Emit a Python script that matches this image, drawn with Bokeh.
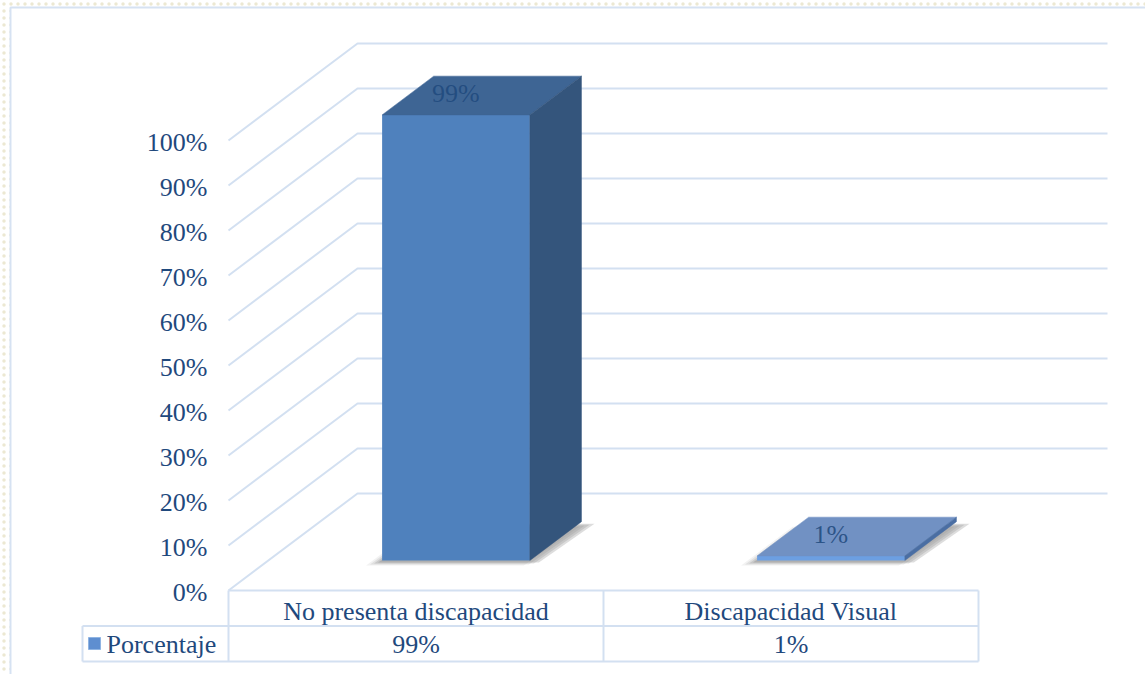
from bokeh.plotting import figure
from bokeh.models import Range1d
from bokeh.embed import file_html
from bokeh.resources import INLINE
from bokeh.core.properties import value

# ---------------- data ----------------
categories = ["No presenta discapacidad", "Discapacidad Visual"]
values = [99, 1]
value_labels = ["99%", "1%"]
series_name = "Porcentaje"
ticks = [0, 10, 20, 30, 40, 50, 60, 70, 80, 90, 100]
tick_labels = ["0%", "10%", "20%", "30%", "40%", "50%", "60%", "70%", "80%", "90%", "100%"]

# ---------------- layout (pixels) ----------------
W, H = 1145, 674
ORIGIN_X, ORIGIN_Y = 228, 590       # front-left corner of the floor (0%)
PX_CAT = 375                        # pixels per category
PX_PCT = 4.5                        # pixels per percent
DEPTH_PX_X, DEPTH_PX_Y = 129, 97    # oblique depth vector
BAR_HALF = 0.197
D0, D1 = 0.31, 0.71                 # bar depth span (fraction of depth)

DX = DEPTH_PX_X / PX_CAT
DY = DEPTH_PX_Y / PX_PCT


def px(xp):
    return (xp - ORIGIN_X) / PX_CAT


def py(yp):
    return (ORIGIN_Y - yp) / PX_PCT


def P(x, y, d):
    return x + d * DX, y + d * DY


FONT = value("Liberation Serif")
FS = "26px"
TXT = "#1F497D"
GRID = "#D3E0F1"
front_colors = ["#4F81BD", "#6C9FE2"]
top_colors = ["#3E6594", "#7191C3"]
side_colors = ["#34557C", "#4A6EA3"]

p = figure(width=W, height=H,
           x_range=Range1d(px(0), px(W)), y_range=Range1d(py(H), py(0)),
           output_backend="svg", toolbar_location=None, min_border=0,
           x_axis_location=None, y_axis_location=None)
p.grid.visible = False
p.outline_line_color = None
p.background_fill_color = "white"
p.border_fill_color = "white"

# dotted page background outside the chart frame
p.quad(left=[px(0), px(0)], right=[px(10), px(W)], bottom=[py(H), py(7)], top=[py(0), py(0)],
       fill_color="white", line_color=None, hatch_pattern="dot",
       hatch_color="#ECE8D2", hatch_scale=7, hatch_weight=1.0)
# chart frame
p.quad(left=[px(10)], right=[px(W + 20)], bottom=[py(H + 20)], top=[py(7)],
       fill_color="white", line_color="#D6E2F2", line_width=2)

# gridlines (front-left diagonal + back wall)
xs, ys = [], []
for t in ticks:
    a = P(0, t, 0)
    b = P(0, t, 1)
    c = P(len(categories), t, 1)
    xs.append([a[0], b[0], c[0]])
    ys.append([a[1], b[1], c[1]])
p.multi_line(xs, ys, line_color=GRID, line_width=2)

# y tick labels
p.text(x=[0] * len(ticks), y=ticks, text=tick_labels, text_font=FONT, text_font_size=FS,
       text_color=TXT, text_align="right", text_baseline="middle", x_offset=-21, y_offset=2)

# bars
for i, v in enumerate(values):
    c = i + 0.5
    l, r = c - BAR_HALF, c + BAR_HALF
    # soft shadow
    base = [P(l, 0, D0), P(r, 0, D0), P(r, 0, D1), P(l, 0, D1)]
    for k, (ox, oy, a) in enumerate([(-16, 5, 0.07), (-12, 4, 0.10), (-8, 3, 0.14), (-4, 2, 0.18)]):
        sx = [b[0] + ox / PX_CAT for b in base]
        sy = [b[1] - oy / PX_PCT for b in base]
        sx[1] += (10 + k) / PX_CAT; sx[2] += (14 + k) / PX_CAT
        p.patch(sx, sy, fill_color="#404040", fill_alpha=a, line_color=None)
    # front face
    fl = P(l, 0, D0); fr = P(r, v, D0)
    p.quad(left=[fl[0]], right=[fr[0]], bottom=[fl[1]], top=[fr[1]],
           fill_color=front_colors[i], line_color=None)
    # top face
    pts = [P(l, v, D0), P(r, v, D0), P(r, v, D1), P(l, v, D1)]
    p.patch([q[0] for q in pts], [q[1] for q in pts], fill_color=top_colors[i],
            line_color=top_colors[i], line_width=0.5)
    # side face
    pts = [P(r, 0, D0), P(r, v, D0), P(r, v, D1), P(r, 0, D1)]
    p.patch([q[0] for q in pts], [q[1] for q in pts], fill_color=side_colors[i],
            line_color=side_colors[i], line_width=0.5)
    # data label on the top face
    lx, ly = P(c, v, (D0 + D1) / 2)
    p.text(x=[lx], y=[ly], text=[value_labels[i]], text_font=FONT, text_font_size=FS,
           text_color=TXT, text_alpha=0.85, text_align="center", text_baseline="middle",
           x_offset=-26, y_offset=-2)

# data table
n = len(categories)
ROW1_T, ROW1_B, ROW2_B = 590, 625.5, 661
LEG_L = 82
tx = [[0, n], [px(LEG_L), n], [px(LEG_L), n], [px(LEG_L), px(LEG_L)]]
ty = [[py(ROW1_T), py(ROW1_T)], [py(ROW1_B), py(ROW1_B)], [py(ROW2_B), py(ROW2_B)],
      [py(ROW1_B), py(ROW2_B)]]
for k in range(n + 1):
    tx.append([k, k])
    ty.append([py(ROW1_T), py(ROW2_B)])
p.multi_line(tx, ty, line_color=GRID, line_width=2)

p.text(x=[i + 0.5 for i in range(n)], y=[py((ROW1_T + ROW1_B) / 2)] * n, text=categories,
       text_font=FONT, text_font_size=FS, text_color=TXT, text_align="center",
       text_baseline="middle", y_offset=3)
p.text(x=[i + 0.5 for i in range(n)], y=[py((ROW1_B + ROW2_B) / 2)] * n, text=value_labels,
       text_font=FONT, text_font_size=FS, text_color=TXT, text_align="center",
       text_baseline="middle", y_offset=1)
# legend key + series name
p.quad(left=[px(88)], right=[px(100)], bottom=[py(649)], top=[py(637)],
       fill_color="#5E8ED0", line_color="#8FB4E3", line_width=1)
p.text(x=[px(106)], y=[py((ROW1_B + ROW2_B) / 2)], text=[series_name], text_font=FONT,
       text_font_size=FS, text_color=TXT, text_align="left", text_baseline="middle", y_offset=1)

open("out.html", "w").write(file_html(p, INLINE))
